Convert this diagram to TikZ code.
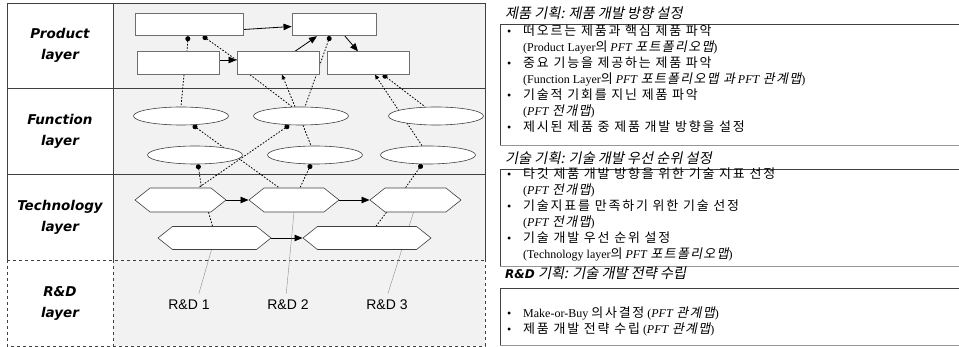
\documentclass[tikz,border=0pt]{standalone}
\usepackage{fontspec}
\setmainfont{Liberation Serif}
\newfontfamily\krfont[Scale=1.08,LetterSpace=14]{Noto Sans CJK KR}
\newfontfamily\krslant[Scale=1.08,LetterSpace=10,FakeSlant=0.2]{Noto Sans CJK KR}
\newfontfamily\krhead[Scale=1.05,FakeSlant=0.2]{Noto Sans CJK KR}
\newfontfamily\layerfont{DejaVu Sans}
\newfontfamily\rdfont{Liberation Sans}
\usetikzlibrary{positioning,arrows.meta,calc,backgrounds,shapes.geometric,shapes.symbols}
\definecolor{cellfill}{RGB}{242,242,242}
\definecolor{gridline}{RGB}{64,64,64}
\definecolor{boxline}{RGB}{110,110,110}
\definecolor{leadline}{RGB}{140,140,140}
\definecolor{shadeline}{RGB}{150,150,150}
\newcommand{\kr}[1]{{\krfont #1}}
\newcommand{\kri}[1]{{\krslant #1}}

\begin{document}
\begin{tikzpicture}[x=1pt,y=-1pt,
    font=\fontsize{12}{16}\selectfont,
    layer/.style={font=\layerfont\bfseries\itshape\fontsize{13.5}{21}\selectfont,align=center},
    prod/.style={draw=boxline,fill=white,line width=0.9pt,minimum height=22.5pt,inner sep=0pt},
    func/.style={ellipse,draw=gridline,fill=white,line width=0.6pt,
                 minimum width=95pt,minimum height=18pt,inner sep=0pt},
    tech/.style={signal,signal to=west and east,signal pointer angle=77,draw=gridline,
                 fill=white,line width=0.6pt,minimum height=24pt,inner sep=0pt},
    rdlab/.style={font=\rdfont\fontsize{14}{16}\selectfont},
    flow/.style={-{Triangle[length=8pt,width=6.5pt]},line width=0.8pt},
    link/.style={dash pattern=on 1.6pt off 1.6pt,line width=0.8pt},
    dotlink/.style={link,{Circle[length=5pt]}-},
    uplink/.style={link,-{Triangle[length=4.5pt,width=4pt]}},
    lead/.style={draw=leadline,line width=0.4pt,shorten <=3pt},
    head/.style={anchor=west,inner sep=0pt,font=\krhead\fontsize{13.5}{16}\selectfont},
    plan/.style={anchor=north west,align=left,inner sep=0pt},
    frame/.style={draw=gridline,line width=0.8pt},
]
\useasboundingbox (0,0) rectangle (959,347);

% --- layer table ---
\begin{scope}[on background layer]
\fill[cellfill] (113,3) rectangle (485,346);
\draw[frame] (7,260) -- (7,3) -- (485,3) -- (485,260);
\draw[frame] (7,88) -- (485,88);
\draw[frame] (7,174) -- (485,174);
\draw[frame] (113,3) -- (113,260);
\draw[frame,dashed] (7,260) -- (485,260);
\draw[frame,dashed] (7,260) -- (7,346) -- (485,346) -- (485,260);
\draw[frame,dashed] (113,260) -- (113,346);
\end{scope}

\node[layer] (lprod) at (60,45.5) {Product\\layer};
\node[layer] (lfunc) at (60,131)  {Function\\layer};
\node[layer] (ltech) at (60,217)  {Technology\\layer};
\node[layer] (lrd)   at (60,303)  {R\&D\\layer};

% --- product layer ---
\node[prod,minimum width=108pt] (p1) at (189,24.5) {};
\node[prod,minimum width=84pt]  (p2) at (334,24.5) {};
\node[prod,minimum width=82pt]  (p3) at (178,63) {};
\node[prod,minimum width=82pt]  (p4) at (278,63) {};
\node[prod,minimum width=82pt]  (p5) at (368,63) {};

% --- function layer ---
\node[func] (f1) at (181,116) {};
\node[func] (f2) at (301,116) {};
\node[func] (f3) at (436,116) {};
\node[func] (f4) at (195,155) {};
\node[func] (f5) at (315,155) {};
\node[func] (f6) at (428,155) {};

% --- technology layer ---
\node[tech,minimum width=91pt]  (t1) at (180.5,200) {};
\node[tech,minimum width=90pt]  (t2) at (294,200) {};
\node[tech,minimum width=91pt]  (t3) at (415.5,200) {};
\node[tech,minimum width=113pt,minimum height=23pt] (t4) at (214.5,238) {};
\node[tech,minimum width=128pt,minimum height=23pt] (t5) at (367,238) {};

% --- R&D layer ---
\node[rdlab] (rd1) at (189,305) {R\&D 1};
\node[rdlab] (rd2) at (288,305) {R\&D 2};
\node[rdlab] (rd3) at (387,305) {R\&D 3};

% connectors behind the shapes
\begin{scope}[on background layer]
\draw[flow] ([yshift=-5pt]p1.east) -- ([yshift=-2pt]p2.west);
\draw[flow] ([yshift=3pt]p3.east) -- ([yshift=3pt]p4.west);
\draw[flow] ([xshift=17pt]p4.north) -- ([xshift=-17pt]p2.south);
\draw[flow] ([xshift=11pt]p2.south) -- ([xshift=-10pt]p5.north);
\draw[dotlink] ([xshift=-1pt]p1.south) -- ([xshift=9pt]p3.north);
\draw[dotlink] ([xshift=14pt]p1.south) -- ([yshift=3pt]p4.west);

\draw[link] ([xshift=6pt]p3.south) -- (f1.north);
\draw[link] ([xshift=-28pt]p4.south) -- ([xshift=-9pt]f2.north);
\draw[uplink] ([xshift=-6pt]f2.north) -- ([xshift=4pt]p4.south);
\draw[dotlink] ([xshift=-4pt]p2.south) -- ([xshift=4pt]f2.north);
\draw[dotlink] ([xshift=15pt]p5.south) -- ([xshift=-11pt]f3.north);
\draw[uplink] ([xshift=-6pt]f6.north) -- ([xshift=7pt]p5.south);

\draw[dotlink] ([xshift=12pt]f1.south) -- ([xshift=-15pt]t2.north);
\draw[dotlink] ([xshift=-12pt]f2.south) -- ([xshift=18pt]t1.north);
\draw[link] ([xshift=2pt]f2.south) -- ([xshift=-4pt]f5.north);
\draw[dotlink] ([xshift=3pt]f4.south) -- ([xshift=21pt]t1.north);
\draw[dotlink] ([xshift=-4pt]f5.south) -- ([xshift=6pt]t2.north);
\draw[dotlink] ([xshift=-6pt]f6.south) -- ([xshift=-10pt]t3.north);

\draw[flow] (t1.east) -- (t2.west);
\draw[flow] (t2.east) -- (t3.west);
\draw[flow] (t4.east) -- (t5.west);
\draw[link] ([xshift=28pt]t1.south) -- ([xshift=-2pt]t4.north);
\draw[link] ([xshift=-29pt]t3.south) -- ([xshift=9pt]t5.north);

\draw[lead] ([xshift=9pt]rd1.north) -- ([xshift=-3pt]t4.south);
\draw[lead] ([xshift=-2pt]rd2.north) -- (t2.south);
\draw[lead] (rd3.north) -- ([xshift=-2pt]t3.south);
\end{scope}

% --- planning panels ---
\node[head] (h1) at (505,13) {제품 기획: 제품 개발 방향 설정};
\draw[frame] (959,24) -| (500,145);
\draw[draw=shadeline,line width=0.8pt] (500,145) -- (959,145);
\node[plan] (b1) at (507,25) {%
  \makebox[16pt][l]{•}\kr{떠오르는 제품과 핵심 제품 파악}\\
  \hspace*{16pt}(Product Layer\kr{의} \textit{PFT} \kri{포트폴리오맵})\\
  \makebox[16pt][l]{•}\kr{중요 기능을 제공하는 제품 파악}\\
  \hspace*{16pt}(Function Layer\kr{의} \textit{PFT} \kri{포트폴리오맵 과} \textit{PFT} \kri{관계맵})\\
  \makebox[16pt][l]{•}\kr{기술적 기회를 지닌 제품 파악}\\
  \hspace*{16pt}(\textit{PFT} \kri{전개맵})\\
  \makebox[16pt][l]{•}\kr{제시된 제품 중 제품 개발 방향을 설정}};

\node[head] (h2) at (505,158) {기술 기획: 기술 개발 우선 순위 설정};
\draw[frame] (959,169) -| (500,266);
\draw[draw=shadeline,line width=0.8pt] (500,266) -- (959,266);
\node[plan] (b2) at (507,167) {%
  \makebox[16pt][l]{•}\kr{타깃 제품 개발 방향을 위한 기술 지표 선정}\\
  \hspace*{16pt}(\textit{PFT} \kri{전개맵})\\
  \makebox[16pt][l]{•}\kr{기술지표를 만족하기 위한 기술 선정}\\
  \hspace*{16pt}(\textit{PFT} \kri{전개맵})\\
  \makebox[16pt][l]{•}\kr{기술 개발 우선 순위 설정}\\
  \hspace*{16pt}(Technology layer\kr{의} \textit{PFT} \kri{포트폴리오맵})};

\node[head] (h3) at (505,273) {{\layerfont\bfseries\itshape\fontsize{12}{14}\selectfont R\&D} 기획: 기술 개발 전략 수립};
\draw[frame] (959,288) -| (500,345);
\draw[draw=shadeline,line width=0.8pt] (500,345) -- (959,345);
\node[plan] (b3) at (507,307) {%
  \makebox[16pt][l]{•}Make-or-Buy \kr{의사결정} (\textit{PFT} \kri{관계맵})\\
  \makebox[16pt][l]{•}\kr{제품 개발 전략 수립} (\textit{PFT} \kri{관계맵})};
\end{tikzpicture}
\end{document}
